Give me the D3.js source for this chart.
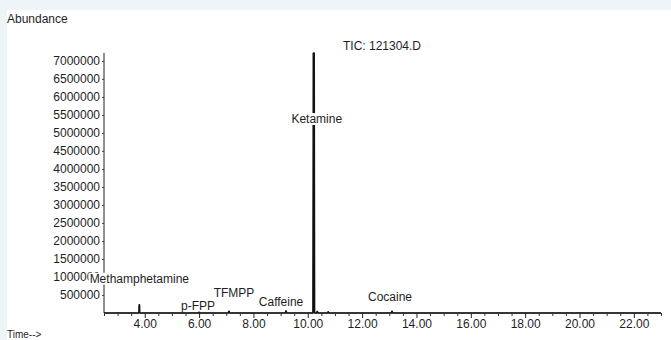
<!DOCTYPE html>
<html>
<head>
<meta charset="utf-8">
<script src="https://cdn.jsdelivr.net/npm/d3@7/dist/d3.min.js"></script>
<style>
  html, body { margin: 0; padding: 0; background: #edf5f8; }
  svg { display: block; }
  text { font-family: "Liberation Sans", Arial, sans-serif; font-size: 12px; fill: #1e1e1e; }
</style>
</head>
<body>
<svg id="chart" width="671" height="340"></svg>
<script>
// Identified compounds: retention time (min) and peak abundance
const compounds = ["Methamphetamine", "p-FPP", "TFMPP", "Caffeine", "Ketamine", "Cocaine"];
const retentionTimes = [3.8, 6.0, 7.1, 9.2, 10.22, 13.1];
const peakHeights = [230000, 40000, 50000, 60000, 7220000, 50000];

// Small unlabelled signals
const minorTimes = [10.35, 10.75];
const minorHeights = [45000, 35000];

// Axis ticks
const yTicks = [500000, 1000000, 1500000, 2000000, 2500000, 3000000, 3500000,
                4000000, 4500000, 5000000, 5500000, 6000000, 6500000, 7000000];
const xMajorTicks = [4, 6, 8, 10, 12, 14, 16, 18, 20, 22];

const svg = d3.select("#chart");

// white plot panel
svg.append("rect").attr("x", 7).attr("y", 10).attr("width", 664).attr("height", 330).attr("fill", "#ffffff");

const x = d3.scaleLinear().domain([2.5, 23]).range([104, 661]);
const y = d3.scaleLinear().domain([0, 7220000]).range([313, 53]);

// chromatogram trace: flat baseline with narrow, steep-sided spikes
const peaks = retentionTimes.map((t, i) => ({ t, h: peakHeights[i], w: i === 4 ? 0.035 : 0.02 }))
  .concat(minorTimes.map((t, i) => ({ t, h: minorHeights[i], w: 0.02 })))
  .sort((a, b) => a.t - b.t);
const trace = [[2.5, 0]];
peaks.forEach(p => {
  trace.push([p.t - p.w, 0], [p.t - p.w * 0.6, p.h], [p.t + p.w * 0.6, p.h], [p.t + p.w, 0]);
});
trace.push([23, 0]);

svg.append("path")
  .datum(trace)
  .attr("fill", "#111")
  .attr("stroke", "#111")
  .attr("stroke-width", 1.3)
  .attr("stroke-linejoin", "bevel")
  .attr("d", d3.line().x(d => x(d[0])).y(d => y(d[1])));

// y axis
const yAxis = svg.append("g").attr("transform", "translate(104,0)")
  .call(d3.axisLeft(y).tickValues(yTicks).tickSize(2).tickPadding(2).tickFormat(d3.format("d")));
yAxis.select(".domain").attr("d", "M0,53V313").attr("stroke", "#222");
yAxis.selectAll(".tick line").attr("stroke", "#444");
yAxis.selectAll("text").attr("fill", "#1e1e1e").style("font-size", "12px").style("font-family", '"Liberation Sans", Arial, sans-serif');

// x axis: major and minor ticks
const xMinor = d3.range(2.5, 23.01, 0.5).filter(v => !xMajorTicks.includes(v));
const xAxisMinor = svg.append("g").attr("transform", "translate(0,313)")
  .call(d3.axisBottom(x).tickValues(xMinor).tickSize(3).tickFormat(""));
xAxisMinor.select(".domain").attr("d", "M104,0H661").attr("stroke", "#222");
xAxisMinor.selectAll(".tick line").attr("stroke", "#333");

const xAxis = svg.append("g").attr("transform", "translate(0,313)")
  .call(d3.axisBottom(x).tickValues(xMajorTicks).tickSize(5).tickPadding(1).tickFormat(d3.format(".2f")));
xAxis.select(".domain").remove();
xAxis.selectAll(".tick line").attr("stroke", "#222");
xAxis.selectAll("text").attr("fill", "#1e1e1e").style("font-size", "12px").style("font-family", '"Liberation Sans", Arial, sans-serif');

// peak labels with opaque background, offset from the apex
const labelOffset = {
  "Methamphetamine": [0, 26],
  "p-FPP": [-1, 6],
  "TFMPP": [5, 18],
  "Caffeine": [-5, 9],
  "Ketamine": [3, -66],
  "Cocaine": [-2, 14]
};
compounds.forEach((name, i) => {
  const px = x(retentionTimes[i]);
  const py = y(peakHeights[i]);
  const [dx, dy] = labelOffset[name];
  const g = svg.append("g");
  const t = g.append("text")
    .attr("x", px + dx)
    .attr("y", py - dy)
    .attr("text-anchor", "middle")
    .attr("dominant-baseline", "central")
    .text(name);
  const bb = t.node().getBBox();
  g.insert("rect", "text")
    .attr("x", bb.x - 1).attr("y", bb.y + 1)
    .attr("width", bb.width + 2).attr("height", bb.height - 2)
    .attr("fill", "#ffffff");
});

// titles
svg.append("text").attr("x", 7).attr("y", 19).attr("dominant-baseline", "central").text("Abundance");
svg.append("text").attr("x", 382).attr("y", 46).attr("text-anchor", "middle").attr("dominant-baseline", "central").text("TIC: 121304.D");
svg.append("text").attr("x", 7).attr("y", 334).attr("dominant-baseline", "central").style("font-size", "10px").text("Time-->");
</script>
</body>
</html>
